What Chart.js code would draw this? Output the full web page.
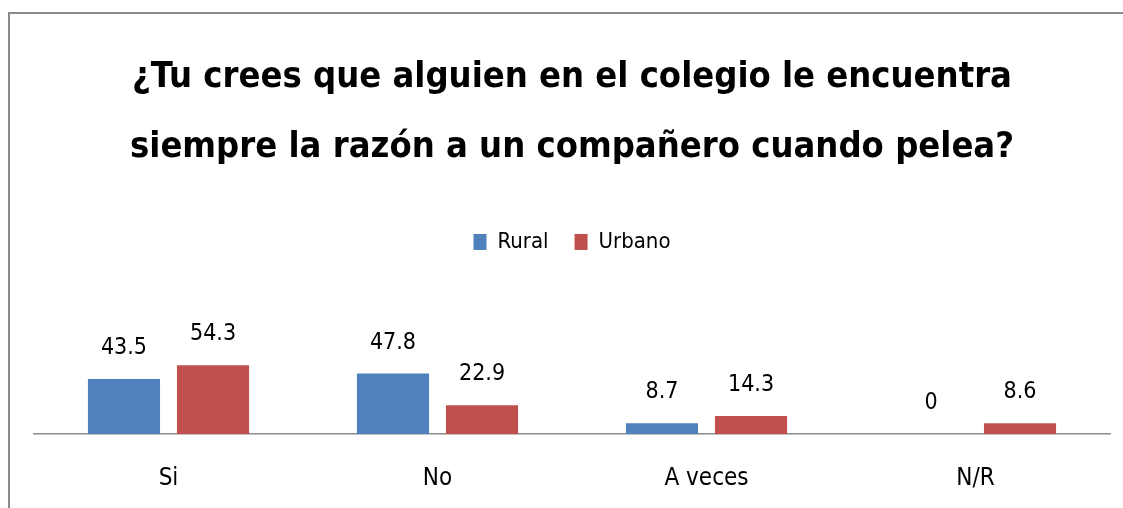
<!DOCTYPE html>
<html>
<head>
<meta charset="utf-8">
<script src="https://cdn.jsdelivr.net/npm/chart.js@4/dist/chart.umd.min.js"></script>
<style>
  html, body { margin: 0; padding: 0; background: #fff; }
  #wrap { position: relative; width: 1123px; height: 508px; }
  #frame { position: absolute; left: 8px; top: 12px; right: 0; bottom: 0;
    border-top: 2px solid #8a8a8a; border-left: 2px solid #8a8a8a; }
  #chart { position: absolute; left: 0; top: 0; }
</style>
</head>
<body>
<div id="wrap">
  <div id="frame"></div>
  <canvas id="chart" width="1123" height="508"></canvas>
</div>
<script>
const FONT = '"Liberation Sans Narrow", "DejaVu Sans Condensed", "Liberation Sans", sans-serif'

let categories = ['Si', 'No', 'A veces', 'N/R']
let rural = [43.5, 47.8, 8.7, 0]
let urbano = [54.3, 22.9, 14.3, 8.6]
let seriesNames = ['Rural', 'Urbano']
let titleLines = ['¿Tu crees que alguien en el colegio le encuentra', 'siempre la razón a un compañero cuando pelea?']

// value labels above the bars
const barLabels = {
  id: 'barLabels',
  afterDatasetsDraw(chart){
    const ctx = chart.ctx
    ctx.save()
    ctx.font = '23px ' + FONT
    ctx.fillStyle = '#000'
    ctx.textAlign = 'center'
    ctx.textBaseline = 'middle'
    chart.data.datasets.forEach((ds, i) => {
      chart.getDatasetMeta(i).data.forEach((bar, j) => {
        ctx.fillText(String(ds.data[j]), bar.x, bar.y - 31)
      })
    })
    ctx.restore()
  }
}

Chart.defaults.font.family = FONT
Chart.defaults.color = '#000000'

new Chart(document.getElementById('chart'), {
  type: 'bar',
  data: {
    labels: categories,
    datasets: [
      { label: seriesNames[0], data: rural, backgroundColor: '#4F81BD' },
      { label: seriesNames[1], data: urbano, backgroundColor: '#C0504D' }
    ]
  },
  options: {
    responsive: false,
    animation: false,
    categoryPercentage: 0.662,
    barPercentage: 0.81,
    layout: { padding: { left: 34, right: 13, top: 0, bottom: -15 } },
    scales: {
      x: {
        grid: { display: false, drawTicks: false },
        border: { display: true, color: '#8c8c8c', width: 1.5 },
        ticks: { padding: 30, font: { size: 24 }, color: '#000' }
      },
      y: {
        display: false,
        min: 0,
        max: 135
      }
    },
    plugins: {
      title: {
        display: true,
        text: titleLines,
        color: '#000',
        font: { size: 36, weight: 'bold', lineHeight: 1.944 },
        padding: { top: 43, bottom: 22 }
      },
      legend: {
        position: 'top',
        labels: { boxWidth: 13, boxHeight: 16, padding: 26, font: { size: 22 }, color: '#000' }
      },
      tooltip: { enabled: false }
    }
  },
  plugins: [barLabels]
})
</script>
</body>
</html>
